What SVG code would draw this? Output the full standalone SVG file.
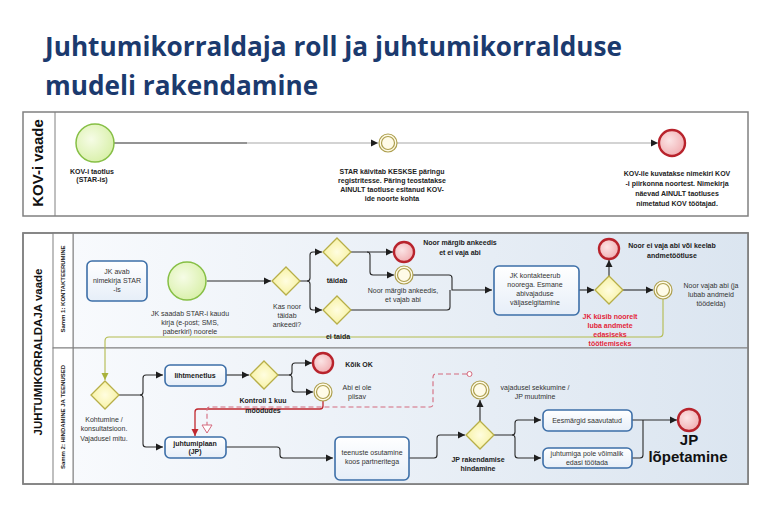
<svg xmlns="http://www.w3.org/2000/svg" width="765" height="510" viewBox="0 0 765 510">
<defs>
  <linearGradient id="laneGrad" x1="0" y1="0" x2="1" y2="0">
    <stop offset="0" stop-color="#f8fafd"/>
    <stop offset="1" stop-color="#dbe5f0"/>
  </linearGradient>
  <linearGradient id="taskGrad" x1="0" y1="0" x2="0" y2="1">
    <stop offset="0" stop-color="#ffffff"/>
    <stop offset="1" stop-color="#e6eef8"/>
  </linearGradient>
  <radialGradient id="startGrad" cx="0.4" cy="0.4" r="0.7">
    <stop offset="0" stop-color="#f6fce6"/>
    <stop offset="1" stop-color="#d6efa4"/>
  </radialGradient>
  <radialGradient id="endGrad" cx="0.4" cy="0.4" r="0.7">
    <stop offset="0" stop-color="#fbe4e5"/>
    <stop offset="1" stop-color="#f0a9ad"/>
  </radialGradient>
  <radialGradient id="gwGrad" cx="0.5" cy="0.5" r="0.6">
    <stop offset="0" stop-color="#fffde0"/>
    <stop offset="1" stop-color="#f6f09a"/>
  </radialGradient>
  <marker id="arr" markerWidth="8" markerHeight="8" refX="7" refY="4" orient="auto" markerUnits="userSpaceOnUse">
    <path d="M0,0.5 L7,4 L0,7.5 Z" fill="#1e1e1e"/>
  </marker>
  <marker id="arrRed" markerWidth="8" markerHeight="8" refX="7" refY="4" orient="auto" markerUnits="userSpaceOnUse">
    <path d="M0,0.5 L7,4 L0,7.5 Z" fill="#c0282f"/>
  </marker>
  <marker id="arrOlive" markerWidth="8" markerHeight="8" refX="7" refY="4" orient="auto" markerUnits="userSpaceOnUse">
    <path d="M0,0.5 L7,4 L0,7.5 Z" fill="#a9b23c"/>
  </marker>
  <marker id="arrOpen" markerWidth="10" markerHeight="12" refX="9" refY="6" orient="auto" markerUnits="userSpaceOnUse">
    <path d="M1,1 L9,6 L1,11 Z" fill="#ffffff" stroke="#d46a7e" stroke-width="1"/>
  </marker>
  <path id="gwShape" d="M0,-14 L14,0 L0,14 L-14,0 Z"/>
</defs>
<style>
  .pool { fill:#ffffff; stroke:#808080; stroke-width:1.5; }
  .lane { fill:url(#laneGrad); stroke:#808080; stroke-width:1; }
  .band { fill:#ffffff; stroke:#808080; stroke-width:1; }
  .flow { fill:none; stroke:#2a2a2a; stroke-width:1.1; }
  .arr { marker-end:url(#arr); }
  .task rect { fill:url(#taskGrad); stroke:#3d6fa8; stroke-width:1.6; }
  .start circle { fill:url(#startGrad); stroke:#86bf45; stroke-width:1.5; }
  .end circle { fill:url(#endGrad); stroke:#b8232c; stroke-width:2.4; }
  .inter circle { fill:#fffbe8; stroke:#ad9f4e; stroke-width:1.2; }
  .gw use { fill:url(#gwGrad); stroke:#b7ae48; stroke-width:1.3; }
  text { font-family:"Liberation Sans", Arial, sans-serif; font-size:7px; fill:#333333; text-anchor:middle; }
  .b { font-weight:bold; fill:#222222; }
  .red { fill:#e3263a; font-weight:bold; }
  .title { font-family:"Open Sans", "Liberation Sans", sans-serif; font-size:26.2px; font-weight:bold; fill:#1b3a6e; text-anchor:start; }
  .poolLabel { font-weight:bold; fill:#111111; }
</style>

<g id="title">
  <text class="title" x="45" y="56">Juhtumikorraldaja roll ja juhtumikorralduse</text>
  <text class="title" x="45" y="95">mudeli rakendamine</text>
</g>

<!-- Pools and lanes -->
<g id="pool-kov">
  <rect class="pool" x="23" y="112" width="725" height="104"/>
  <line x1="55" y1="112" x2="55" y2="216" stroke="#808080" stroke-width="1"/>
  <text class="poolLabel" style="font-size:15px" transform="translate(43,163) rotate(-90)">KOV-i vaade</text>
</g>
<g id="pool-jk">
  <rect class="pool" x="23" y="233" width="725" height="251"/>
  <rect class="lane" x="73" y="233" width="675" height="115"/>
  <rect class="lane" x="73" y="348" width="675" height="136"/>
  <rect class="band" x="53" y="233" width="20" height="115"/>
  <rect class="band" x="53" y="348" width="20" height="136"/>
  <rect x="23" y="233" width="725" height="251" fill="none" stroke="#808080" stroke-width="1.5"/>
  <text class="poolLabel" style="font-size:11.5px" transform="translate(42,352) rotate(-90)">JUHTUMIKORRALDAJA vaade</text>
  <text class="b" style="font-size:6px" transform="translate(65,289) rotate(-90)">Samm 1: KONTAKTEERUMINE</text>
  <text class="b" style="font-size:6px" transform="translate(65,417) rotate(-90)">Samm 2: HINDAMINE JA TEENUSED</text>
</g>

<!-- Connectors -->
<g id="connectors">
  <path class="flow" d="M114,143 H247"/>
  <path class="flow arr" style="stroke:#a8a8a8" d="M247,143 H378"/>
  <path class="flow arr" style="stroke:#a8a8a8" d="M397,143 H658"/>

  <path class="flow arr" d="M207,281 H271"/>
  <path class="flow arr" d="M300,281 H307 Q310,281 310,278 V255 Q310,252 313,252 H322"/>
  <path class="flow arr" d="M307,281 Q310,281 310,284 V307 Q310,310 313,310 H322"/>
  <path class="flow arr" d="M351,252 H393"/>
  <path class="flow arr" d="M367,252 Q370,252 370,255 V272 Q370,275 373,275 H394"/>
  <path class="flow arr" d="M413,275 H449 Q452,275 452,278 V290 H492"/>
  <path class="flow" d="M351,310 H447 Q450,310 450,307 V290"/>
  <path class="flow arr" d="M579,290 H594"/>
  <path class="flow arr" d="M609,276 V260"/>
  <path class="flow arr" d="M623,290 H653"/>
  <path class="flow" style="stroke:#b3bb4e;marker-end:url(#arrOlive)" d="M663,299 V333 Q663,337 659,337 H109 Q105,337 105,341 V380"/>

  <path class="flow arr" d="M119,395 H140 Q143,395 143,392 V378 Q143,375 146,375 H163"/>
  <path class="flow arr" d="M140,395 Q143,395 143,398 V444 Q143,447 146,447 H163"/>
  <path class="flow arr" d="M226,375 H249"/>
  <path class="flow arr" d="M278,375 H289 Q292,375 292,372 V366 Q292,363 295,363 H312"/>
  <path class="flow arr" d="M289,375 Q292,375 292,378 V389 Q292,392 295,392 H313"/>
  <path class="flow" style="stroke:#c0282f;stroke-width:1.3;marker-end:url(#arrRed)" d="M323,401 V406 Q323,409 320,409 H198 Q195,409 195,412 V436"/>
  <path class="flow" style="stroke:#d46a7e;stroke-dasharray:5,3;marker-end:url(#arrOpen)" d="M467,374 H436 Q433,374 433,377 V404 Q433,407 430,407 H210 Q207,407 207,410 V433"/>
  <circle cx="469.5" cy="374" r="2.5" fill="#ffffff" stroke="#d46a7e" stroke-width="1"/>
  <path class="flow arr" d="M226,447 H277 Q280,447 280,450 V455 Q280,458 283,458 H333"/>
  <path class="flow arr" d="M409,458 H434 Q437,458 437,455 V438 Q437,435 440,435 H465"/>
  <path class="flow arr" d="M480,421 V400"/>
  <path class="flow arr" d="M494,435 H512 Q515,435 515,432 V423 Q515,420 518,420 H541"/>
  <path class="flow arr" d="M512,435 Q515,435 515,438 V455 Q515,458 518,458 H541"/>
  <path class="flow arr" d="M632,420 H677"/>
  <path class="flow" d="M632,458 H640 Q643,458 643,455 V420"/>
</g>

<!-- KOV pool nodes -->
<g id="kov-start" class="start">
  <circle cx="95" cy="143" r="19"/>
  <text class="b" x="92" y="174">KOV-i taotlus</text>
  <text class="b" x="92" y="182">(STAR-is)</text>
</g>
<g id="kov-star-query" class="inter">
  <circle cx="388" cy="143" r="9"/>
  <circle cx="388" cy="143" r="6.5"/>
  <text class="b" x="392" y="174">STAR käivitab KESKSE päringu</text>
  <text class="b" x="392" y="183">registritesse. Päring teostatakse</text>
  <text class="b" x="392" y="192">AINULT taotluse esitanud KOV-</text>
  <text class="b" x="392" y="201">ide noorte kohta</text>
</g>
<g id="kov-end" class="end">
  <circle cx="672" cy="143" r="13"/>
  <text class="b" x="677" y="176">KOV-ile kuvatakse nimekiri KOV</text>
  <text class="b" x="677" y="186">-i piirkonna noortest. Nimekirja</text>
  <text class="b" x="677" y="196">näevad AINULT taotluses</text>
  <text class="b" x="677" y="206">nimetatud KOV töötajad.</text>
</g>

<!-- Lane 1 nodes -->
<g id="jk-avab" class="task">
  <rect x="87" y="261" width="60" height="40" rx="5"/>
  <text x="117" y="274">JK avab</text>
  <text x="117" y="283">nimekirja STAR</text>
  <text x="117" y="292">-is</text>
</g>
<g id="jk-saadab" class="start">
  <circle cx="187" cy="281" r="19"/>
  <text x="190" y="316">JK saadab STAR-i kaudu</text>
  <text x="190" y="325">kirja (e-post; SMS,</text>
  <text x="190" y="334">paberkiri) noorele</text>
</g>
<g id="gw-kas-noor" class="gw">
  <use href="#gwShape" x="286" y="281"/>
  <text x="287" y="309">Kas noor</text>
  <text x="287" y="318">täidab</text>
  <text x="287" y="327">ankeedi?</text>
</g>
<g id="gw-taidab" class="gw">
  <use href="#gwShape" x="337" y="252"/>
  <text class="b" x="337" y="283">täidab</text>
</g>
<g id="gw-ei-taida" class="gw">
  <use href="#gwShape" x="337" y="310"/>
  <text class="b" x="338" y="339">ei taida</text>
</g>
<g id="end-ei-vaja" class="end">
  <circle cx="404" cy="252" r="10"/>
  <text class="b" x="460" y="245">Noor märgib ankeedis</text>
  <text class="b" x="460" y="255">et ei vaja abi</text>
</g>
<g id="inter-vajab" class="inter">
  <circle cx="404" cy="275" r="9"/>
  <circle cx="404" cy="275" r="6.5"/>
  <text x="403" y="293">Noor märgib ankeedis,</text>
  <text x="403" y="302">et vajab abi</text>
</g>
<g id="jk-kontakteerub" class="task">
  <rect x="494" y="266" width="85" height="49" rx="5"/>
  <text x="535" y="278">JK kontakteerub</text>
  <text x="535" y="287">noorega. Esmane</text>
  <text x="535" y="296">abivajaduse</text>
  <text x="535" y="305">väljaselgitamine</text>
</g>
<g id="gw-luba" class="gw">
  <use href="#gwShape" x="609" y="290"/>
  <text class="red" x="610" y="319">JK küsib noorelt</text>
  <text class="red" x="610" y="328">luba andmete</text>
  <text class="red" x="610" y="337">edasiseks</text>
  <text class="red" x="610" y="346">töötlemiseks</text>
</g>
<g id="end-keelab" class="end">
  <circle cx="609" cy="249" r="10"/>
  <text class="b" x="672" y="248">Noor ei vaja abi või keelab</text>
  <text class="b" x="672" y="258">andmetöötluse</text>
</g>
<g id="inter-lubab" class="inter">
  <circle cx="663" cy="290" r="9"/>
  <circle cx="663" cy="290" r="6.5"/>
  <text x="711" y="288">Noor vajab abi (ja</text>
  <text x="711" y="297">lubab andmeid</text>
  <text x="711" y="306">töödelda)</text>
</g>

<!-- Lane 2 nodes -->
<g id="gw-kohtumine" class="gw">
  <use href="#gwShape" x="105" y="395"/>
  <text x="104" y="422">Kohtumine /</text>
  <text x="104" y="431">konsultatsioon.</text>
  <text x="104" y="441">Vajadusel mitu.</text>
</g>
<g id="lihtmenetlus" class="task">
  <rect x="165" y="365" width="61" height="21" rx="5"/>
  <text class="b" x="195" y="378">lihtmenetlus</text>
</g>
<g id="juhtumiplaan" class="task">
  <rect x="165" y="437" width="61" height="21" rx="5"/>
  <text class="b" x="195" y="446">juhtumiplaan</text>
  <text class="b" x="195" y="454">(JP)</text>
</g>
<g id="gw-kontroll" class="gw">
  <use href="#gwShape" x="264" y="375"/>
  <text class="b" x="263" y="403">Kontroll 1 kuu</text>
  <text class="b" x="263" y="413">möödudes</text>
</g>
<g id="end-koik-ok" class="end">
  <circle cx="323" cy="363" r="10"/>
  <text class="b" x="359" y="367">Kõik OK</text>
</g>
<g id="inter-abi-ei-ole" class="inter">
  <circle cx="323" cy="392" r="9"/>
  <circle cx="323" cy="392" r="6.5"/>
  <text x="357" y="390">Abi ei ole</text>
  <text x="357" y="399">piisav</text>
</g>
<g id="teenuste-osutamine" class="task">
  <rect x="335" y="437" width="74" height="43" rx="5"/>
  <text x="372" y="455">teenuste osutamine</text>
  <text x="372" y="464">koos partneritega</text>
</g>
<g id="gw-jp-hindamine" class="gw">
  <use href="#gwShape" x="480" y="435"/>
  <text class="b" x="478" y="462">JP rakendamise</text>
  <text class="b" x="478" y="471">hindamine</text>
</g>
<g id="inter-sekkumine" class="inter">
  <circle cx="480" cy="390" r="9"/>
  <circle cx="480" cy="390" r="6.5"/>
  <text x="535" y="390">vajadusel sekkumine /</text>
  <text x="535" y="399">JP muutmine</text>
</g>
<g id="eesmargid" class="task">
  <rect x="543" y="410" width="89" height="21" rx="5"/>
  <text x="587" y="423">Eesmärgid saavutatud</text>
</g>
<g id="juhtumiga-pole" class="task">
  <rect x="543" y="448" width="89" height="20" rx="5"/>
  <text x="587" y="456">juhtumiga pole võimalik</text>
  <text x="587" y="465">edasi töötada</text>
</g>
<g id="end-jp-lopetamine" class="end">
  <circle cx="689" cy="420" r="11"/>
  <text class="b" style="font-size:15px;fill:#111" x="689" y="445">JP</text>
  <text class="b" style="font-size:15px;fill:#111" x="688" y="462">lõpetamine</text>
</g>
</svg>
